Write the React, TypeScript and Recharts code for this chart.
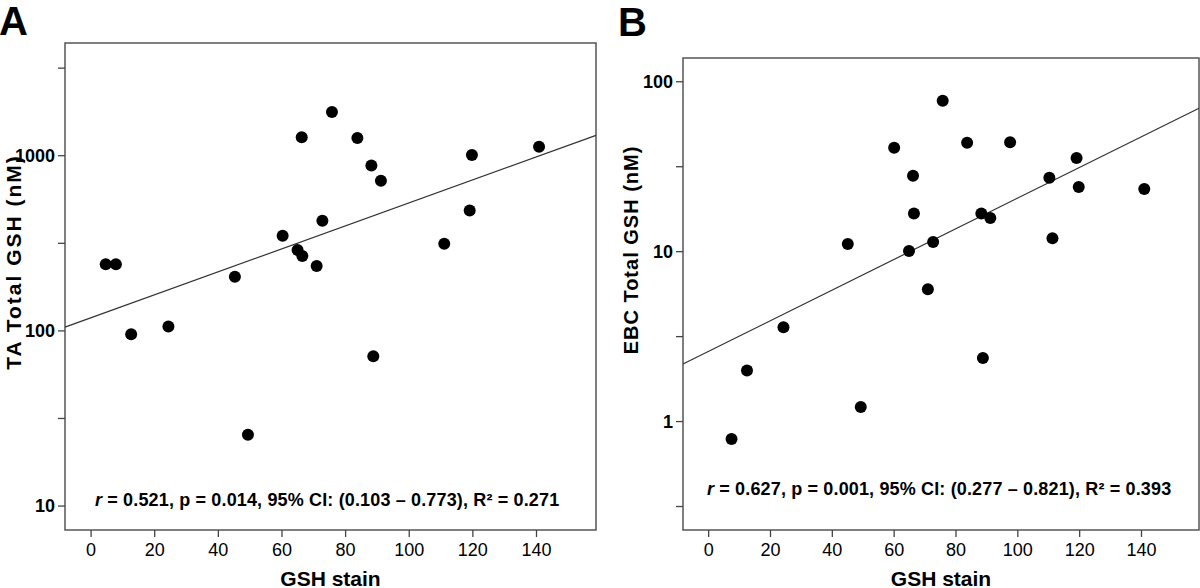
import { ReferenceArea, ReferenceLine, Scatter, ScatterChart, XAxis, YAxis } from "recharts";

// panel A: tracheal aspirate
const gshStainA = [4.6, 7.8, 12.6, 24.3, 45.2, 49.3, 60.2, 64.9, 66.2, 66.4, 70.9, 72.7, 75.7, 83.7, 88.1, 88.7, 91.1, 111.0, 119.0, 119.7, 140.8];
const taTotalGsh = [240, 240, 95.7, 106, 204, 25.5, 349, 290, 1273, 268, 235, 425, 1778, 1263, 880, 71.7, 719, 314, 486, 1009, 1126];
const fitXA = [-8.2, 158.7];
const fitYA = [105, 1306];
const yDomainA = [7.3, 4400];
const yTicksA = [10, 31.62, 100, 316.2, 1000, 3162];
const yTickLabelsA = ["10", "", "100", "", "1000", ""];

// panel B: exhaled breath condensate
const gshStainB = [7.4, 12.4, 24.2, 45.0, 49.2, 60.0, 64.8, 66.1, 66.4, 70.9, 72.6, 75.7, 83.6, 88.2, 88.7, 91.1, 97.5, 110.2, 111.2, 119.0, 119.7, 140.9];
const ebcTotalGsh = [0.79, 2.0, 3.59, 11.1, 1.22, 40.9, 10.1, 28.0, 16.8, 6.0, 11.4, 77.3, 43.7, 16.8, 2.37, 15.8, 44.0, 27.2, 12.0, 35.6, 24.0, 23.4];
const fitXB = [-8.3, 158.6];
const fitYB = [2.18, 69.9];
const yDomainB = [0.23, 138];
const yTicksB = [0.3162, 1, 3.162, 10, 31.62, 100];
const yTickLabelsB = ["", "1", "", "10", "", "100"];

const xDomainA = [-8.2, 158.7];
const xDomainB = [-8.3, 158.6];
const xTicks = [0, 20, 40, 60, 80, 100, 120, 140];

const FONT = "'Liberation Sans', Arial, Helvetica, sans-serif";

function Dot(props: any) {
  return <circle cx={props.cx} cy={props.cy} r={6} fill="#000" />;
}

// axis titles placed by hand (props named so recharts' clone doesn't overwrite them)
function AxisTitle({ tx, ty, text, size, spacing, rotate }: any) {
  return (
    <text
      x={tx}
      y={ty}
      transform={rotate ? `rotate(-90 ${tx} ${ty})` : undefined}
      textAnchor="middle"
      dominantBaseline="central"
      fontFamily={FONT}
      fontWeight="bold"
      fontSize={size}
      letterSpacing={spacing}
      fill="#000"
    >
      {text}
    </text>
  );
}

type PanelProps = {
  xs: number[];
  ys: number[];
  fitX: number[];
  fitY: number[];
  xDomain: number[];
  yDomain: number[];
  yTicks: number[];
  yTickLabels: string[];
  axisWidth: number;
  top: number;
  right: number;
  yTitle: string;
  titleX: number;
  titleY: number;
  titleSize: number;
  titleSpacing: number;
};

function Panel(p: PanelProps) {
  const data = p.xs.map((x, i) => ({ x, y: p.ys[i] }));
  return (
    <ScatterChart
      width={600}
      height={588}
      margin={{ top: p.top, right: p.right, bottom: 0, left: 0 }}
    >
      <XAxis
        type="number"
        dataKey="x"
        domain={p.xDomain}
        allowDataOverflow
        ticks={xTicks}
        height={58}
        axisLine={false}
        tickLine={{ stroke: "#444", strokeWidth: 1.3 }}
        tickSize={7}
        tickMargin={6}
        tick={{ fontFamily: FONT, fontSize: 18, fill: "#000" }}
        label={
          <AxisTitle
            tx={p.axisWidth + (600 - p.axisWidth - p.right) / 2}
            ty={578}
            text="GSH stain"
            size={21}
            spacing={0}
          />
        }
      />
      <YAxis
        type="number"
        dataKey="y"
        scale="log"
        domain={p.yDomain}
        allowDataOverflow
        ticks={p.yTicks}
        tickFormatter={(v: number) => p.yTickLabels[p.yTicks.indexOf(v)] ?? ""}
        width={p.axisWidth}
        axisLine={false}
        tickLine={{ stroke: "#444", strokeWidth: 1.3 }}
        tickSize={7}
        tickMargin={3}
        tick={{ fontFamily: FONT, fontSize: 18, fontWeight: "bold", fill: "#000" }}
        label={
          <AxisTitle
            tx={p.titleX}
            ty={p.titleY}
            text={p.yTitle}
            size={p.titleSize}
            spacing={p.titleSpacing}
            rotate
          />
        }
      />
      <ReferenceArea
        x1={p.xDomain[0]}
        x2={p.xDomain[1]}
        y1={p.yDomain[0]}
        y2={p.yDomain[1]}
        fill="none"
        stroke="#555"
        strokeWidth={1.5}
        ifOverflow="visible"
      />
      <ReferenceLine
        segment={[
          { x: p.fitX[0], y: p.fitY[0] },
          { x: p.fitX[1], y: p.fitY[1] },
        ]}
        stroke="#333"
        strokeWidth={1.2}
        ifOverflow="visible"
      />
      <Scatter data={data} shape={Dot} isAnimationActive={false} />
    </ScatterChart>
  );
}

export default function App() {
  return (
    <div
      style={{
        position: "relative",
        width: 1200,
        height: 588,
        background: "#fff",
        fontFamily: FONT,
        overflow: "hidden",
      }}
    >
      <style>{`body{margin:0}`}</style>
      <div style={{ position: "absolute", left: 0, top: 0 }}>
        <Panel
          xs={gshStainA}
          ys={taTotalGsh}
          fitX={fitXA}
          fitY={fitYA}
          xDomain={xDomainA}
          yDomain={yDomainA}
          yTicks={yTicksA}
          yTickLabels={yTickLabelsA}
          axisWidth={65}
          top={43}
          right={4}
          yTitle="TA Total GSH (nM)"
          titleX={13}
          titleY={262}
          titleSize={21}
          titleSpacing={2}
        />
      </div>
      <div style={{ position: "absolute", left: 600, top: 0 }}>
        <Panel
          xs={gshStainB}
          ys={ebcTotalGsh}
          fitX={fitXB}
          fitY={fitYB}
          xDomain={xDomainB}
          yDomain={yDomainB}
          yTicks={yTicksB}
          yTickLabels={yTickLabelsB}
          axisWidth={83}
          top={58}
          right={1}
          yTitle="EBC Total GSH (nM)"
          titleX={31}
          titleY={250}
          titleSize={20}
          titleSpacing={1}
        />
      </div>
      <div style={{ position: "absolute", left: -1, top: -3, fontSize: 40, fontWeight: "bold", lineHeight: "48px" }}>A</div>
      <div style={{ position: "absolute", left: 618, top: -2, fontSize: 40, fontWeight: "bold", lineHeight: "48px" }}>B</div>
      <div style={{ position: "absolute", left: 95, top: 489, fontSize: 18, fontWeight: "bold", lineHeight: "22px", whiteSpace: "nowrap", letterSpacing: 0.15 }}>
        <i>r</i> = 0.521, p = 0.014, 95% CI: (0.103 – 0.773), R² = 0.271
      </div>
      <div style={{ position: "absolute", left: 707, top: 478, fontSize: 18, fontWeight: "bold", lineHeight: "22px", whiteSpace: "nowrap", letterSpacing: 0.15 }}>
        <i>r</i> = 0.627, p = 0.001, 95% CI: (0.277 – 0.821), R² = 0.393
      </div>
    </div>
  );
}
